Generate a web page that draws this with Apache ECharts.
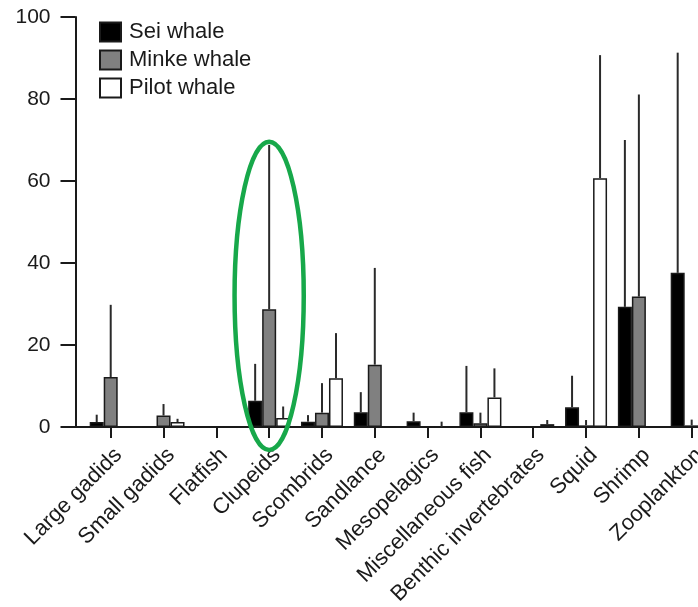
<!DOCTYPE html>
<html>
<head>
<meta charset="utf-8">
<script src="https://cdn.jsdelivr.net/npm/echarts@6/dist/echarts.min.js"></script>
<style>
  html, body { margin: 0; padding: 0; background: #ffffff; }
  #chart { width: 698px; height: 607px; }
</style>
</head>
<body>
<div id="chart"></div>
<script>
// Prey categories along the x axis
const categories = [
  'Large gadids', 'Small gadids', 'Flatfish', 'Clupeids', 'Scombrids', 'Sandlance',
  'Mesopelagics', 'Miscellaneous fish', 'Benthic invertebrates', 'Squid', 'Shrimp', 'Zooplankton'
];

// Mean diet share (%) and the top of each error bar, per whale species
const seiMean   = [1.2, 0,   0, 6.4,  1.3,  3.6, 1.4, 3.6,  0,   4.8,  29.3, 37.6];
const seiUpper  = [3.0, null, null, 15.4, 2.9, 8.5, 3.5, 14.9, null, 12.5, 70.0, 91.3];

const minkeMean  = [12.2, 2.8, 0, 28.7, 3.5, 15.2, 0, 0.9, 0, 0.4, 31.8, 0.4];
const minkeUpper = [29.8, 5.6, null, 68.8, 10.7, 38.8, null, 3.5, null, 1.7, 81.1, 1.8];

const pilotMean  = [0, 1.2, 0, 2.2, 11.9, 0, 0, 7.2, 0.7, 60.7, 0, 0];
const pilotUpper = [null, 2.0, null, 5.0, 22.9, null, 1.3, 14.3, 1.7, 90.7, null, null];

// Value axis ticks
const yMin = 0, yMax = 100, yStep = 20;

// Highlighted category (ellipse drawn around it, in data units)
const highlightCategory = 'Clupeids';
const highlightTop = 69.6;
const highlightBottom = -5.6;

const BAR_W = 14;
const INK = '#1a1a1a';
const FONT = "'Liberation Sans', Arial, Helvetica, sans-serif";

function errorSeries(name, mean, upper, slot) {
  return {
    type: 'custom',
    name: name,
    xAxisIndex: 1,
    yAxisIndex: 1,
    z: 4,
    silent: true,
    data: categories.map((c, i) => [i, mean[i], upper[i] == null ? NaN : upper[i]]),
    renderItem: function (params, api) {
      const up = api.value(2);
      if (up == null || isNaN(up)) return;
      const idx = api.value(0);
      const x = api.coord([idx, 0])[0] + slot * BAR_W;
      const yA = api.coord([idx, api.value(1)])[1];
      const yB = api.coord([idx, up])[1];
      return {
        type: 'line',
        shape: { x1: x, y1: yA, x2: x, y2: yB },
        style: { stroke: '#2a2a2a', lineWidth: 2 }
      };
    }
  };
}

function barSeries(name, values, fill) {
  return {
    type: 'bar',
    name: name,
    xAxisIndex: 1,
    yAxisIndex: 1,
    data: values,
    barWidth: BAR_W,
    barGap: '0%',
    z: 3,
    itemStyle: { color: fill, borderColor: INK, borderWidth: 1.5 }
  };
}

const chart = echarts.init(document.getElementById('chart'), null, { renderer: 'canvas' });

chart.setOption({
  animation: false,
  backgroundColor: '#ffffff',
  legend: {
    orient: 'vertical',
    left: 99,
    top: 21,
    padding: 0,
    itemWidth: 21,
    itemHeight: 19,
    itemGap: 6,
    icon: 'rect',
    data: ['Sei whale', 'Minke whale', 'Pilot whale'],
    textStyle: { fontFamily: FONT, fontSize: 22, color: INK, padding: [0, 0, 0, 3] }
  },
  grid: [
    // frame: y axis and the zero baseline
    { left: 75.5, top: 17, bottom: 180, right: -40, outerBoundsMode: 'none', containLabel: false },
    // category bands
    { left: 84.3, top: 17, bottom: 180, width: 633.8, outerBoundsMode: 'none', containLabel: false }
  ],
  xAxis: [
    {
      type: 'value', gridIndex: 0, min: 0, max: 1,
      axisLine: { show: true, onZero: false, lineStyle: { color: INK, width: 2 } },
      axisTick: { show: false }, axisLabel: { show: false }, splitLine: { show: false }
    },
    {
      type: 'category', gridIndex: 1, data: categories,
      axisLine: { show: false },
      axisTick: { show: true, alignWithLabel: true, length: 11, lineStyle: { color: INK, width: 2 } },
      axisLabel: {
        rotate: 45, interval: 0, margin: 17, verticalAlign: 'top',
        fontFamily: FONT, fontSize: 22, color: INK, hideOverlap: false
      }
    }
  ],
  yAxis: [
    {
      type: 'value', gridIndex: 0, min: yMin, max: yMax, interval: yStep,
      axisLine: { show: true, lineStyle: { color: INK, width: 2 } },
      axisTick: { show: true, length: 15, lineStyle: { color: INK, width: 2 } },
      axisLabel: { margin: 25, fontFamily: FONT, fontSize: 21, color: INK },
      splitLine: { show: false }
    },
    {
      type: 'value', gridIndex: 1, min: yMin, max: yMax, interval: yStep, show: false
    }
  ],
  series: [
    barSeries('Sei whale', seiMean, '#000000'),
    barSeries('Minke whale', minkeMean, '#808080'),
    barSeries('Pilot whale', pilotMean, '#ffffff'),
    errorSeries('Sei whale range', seiMean, seiUpper, -1),
    errorSeries('Minke whale range', minkeMean, minkeUpper, 0),
    errorSeries('Pilot whale range', pilotMean, pilotUpper, 1),
    {
      type: 'custom',
      name: 'highlight',
      xAxisIndex: 1,
      yAxisIndex: 1,
      z: 10,
      silent: true,
      clip: false,
      data: [[categories.indexOf(highlightCategory), highlightTop, highlightBottom]],
      renderItem: function (params, api) {
        const idx = api.value(0);
        const top = api.coord([idx, api.value(1)]);
        const bottom = api.coord([idx, api.value(2)]);
        const band = api.size([1, 0])[0];
        return {
          type: 'ellipse',
          shape: {
            cx: top[0],
            cy: (top[1] + bottom[1]) / 2,
            rx: band * 0.655,
            ry: (bottom[1] - top[1]) / 2
          },
          style: { fill: 'none', stroke: '#17a84a', lineWidth: 4.5 }
        };
      }
    }
  ]
});
</script>
</body>
</html>
